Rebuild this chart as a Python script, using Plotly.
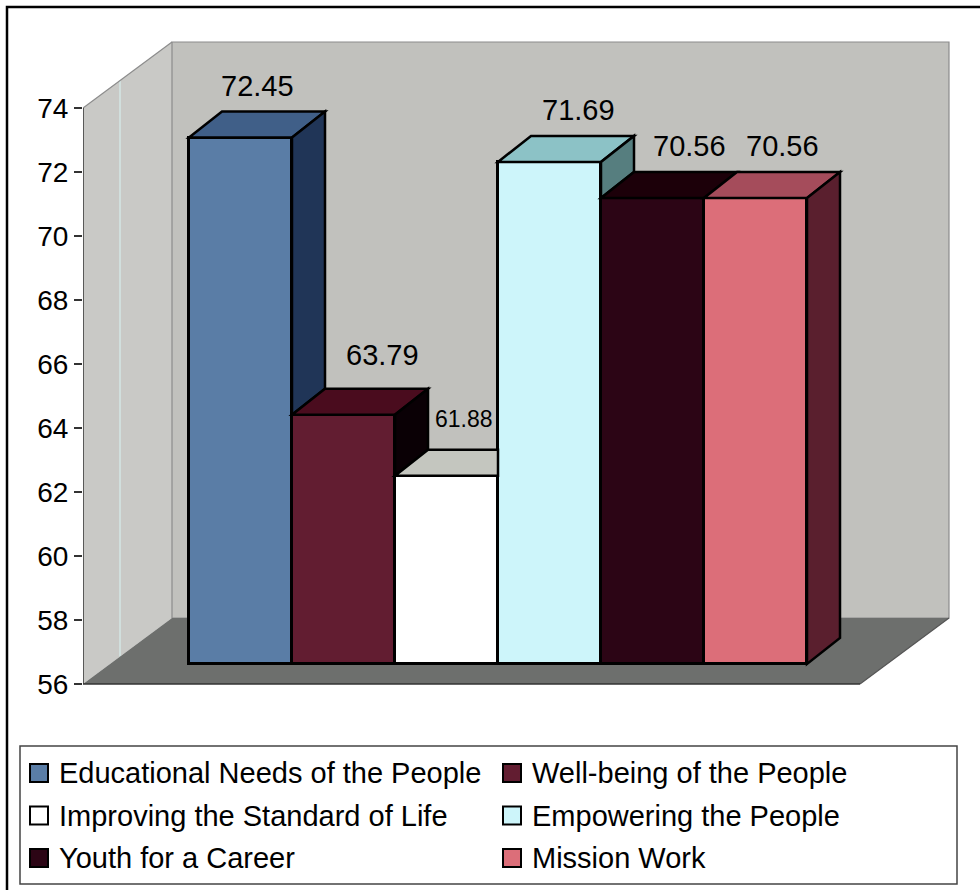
import plotly.graph_objects as go

# ---- data -------------------------------------------------------------
categories = [
    "Educational Needs of the People",
    "Well-being of the People",
    "Improving the Standard of Life",
    "Empowering the People",
    "Youth for a Career",
    "Mission Work",
]
scores = [72.45, 63.79, 61.88, 71.69, 70.56, 70.56]
tick_values = [56, 58, 60, 62, 64, 66, 68, 70, 72, 74]

# ---- colours (front / top / side face of each column) -----------------
front_colors = ["#5a7da6", "#621d31", "#ffffff", "#cdf5fa", "#2c0515", "#dc6e79"]
top_colors = ["#405f88", "#4a0c1e", "#c4c6bf", "#8cc2c6", "#1c0009", "#a54c5b"]
side_colors = ["#203557", "#0a0005", "#a9aaa4", "#567e7f", "#12000a", "#5a1f2e"]

FONT = "Liberation Sans, Arial, sans-serif"
Y_MIN, Y_MAX = tick_values[0], tick_values[-1]

# ---- page geometry (pixels) --------------------------------------------
FIG_W, FIG_H = 980, 890
M_L, M_R, M_T, M_B = 83, 30, 40, 200
PLOT_W = FIG_W - M_L - M_R
PLOT_H = FIG_H - M_T - M_B
PLOT_BOTTOM = M_T + PLOT_H

FRONT_Y_MIN_PX = 684      # Y_MIN on the front edge of the box
FRONT_Y_MAX_PX = 108      # Y_MAX on the front edge of the box
PX_PER_Y = (FRONT_Y_MIN_PX - FRONT_Y_MAX_PX) / (Y_MAX - Y_MIN)
PX_PER_X = 103            # one category slot

# box (walls + floor) in front-plane units
BOX_DX = 89 / PX_PER_X
BOX_DY = 66 / PX_PER_Y
FLOOR_W = (860 - M_L) / PX_PER_X

# column plane sits part way into the box
BAR_LEFT_PX = 189
BAR_BASE_PX = 664
BAR_DX = 33 / PX_PER_X
BAR_DY = 26 / PX_PER_Y

x_range = [0, PLOT_W / PX_PER_X]
y_range = [Y_MIN - (PLOT_BOTTOM - FRONT_Y_MIN_PX) / PX_PER_Y,
           Y_MAX + (FRONT_Y_MAX_PX - M_T) / PX_PER_Y]
x2_lo = -((BAR_LEFT_PX + PX_PER_X / 2) - M_L) / PX_PER_X
x2_range = [x2_lo, x2_lo + PLOT_W / PX_PER_X]
y2_range = [Y_MIN - (PLOT_BOTTOM - BAR_BASE_PX) / PX_PER_Y,
            Y_MIN + (BAR_BASE_PX - M_T) / PX_PER_Y]


def px_x(p):
    return (p - M_L) / PLOT_W


def px_y(p):
    return (PLOT_BOTTOM - p) / PLOT_H


def path(points):
    return "M " + " L ".join(f"{x:.5f},{y:.5f}" for x, y in points) + " Z"


fig = go.Figure()

# column fronts
fig.add_trace(go.Bar(
    x=list(range(len(scores))),
    y=[v - Y_MIN for v in scores],
    base=Y_MIN,
    width=1.0,
    marker=dict(color=front_colors, line=dict(color="black", width=3)),
    xaxis="x2", yaxis="y2",
    showlegend=False, hoverinfo="skip",
))

shapes = []

# ---- box: left wall, back wall, floor ----------------------------------
shapes.append(dict(type="path", xref="x", yref="y", layer="below",
                   path=path([(0, Y_MIN), (0, Y_MAX), (BOX_DX, Y_MAX + BOX_DY),
                              (BOX_DX, Y_MIN + BOX_DY)]),
                   fillcolor="#c9c9c6", line=dict(width=0)))
shapes.append(dict(type="path", xref="x", yref="y", layer="below",
                   path=path([(BOX_DX, Y_MIN + BOX_DY), (BOX_DX, Y_MAX + BOX_DY),
                              (BOX_DX + FLOOR_W, Y_MAX + BOX_DY),
                              (BOX_DX + FLOOR_W, Y_MIN + BOX_DY)]),
                   fillcolor="#c1c1bd", line=dict(color="#8c8c8c", width=1.2)))
# faint rib on the side wall
rib_t = 37 / 89
shapes.append(dict(type="line", xref="x", yref="y", layer="below",
                   x0=BOX_DX * rib_t, x1=BOX_DX * rib_t,
                   y0=Y_MIN + BOX_DY * rib_t, y1=Y_MAX + BOX_DY * rib_t,
                   line=dict(color="#d3e6e4", width=1.5)))
shapes.append(dict(type="path", xref="x", yref="y", layer="below",
                   path=path([(0, Y_MIN), (FLOOR_W, Y_MIN),
                              (FLOOR_W + BOX_DX, Y_MIN + BOX_DY),
                              (BOX_DX, Y_MIN + BOX_DY)]),
                   fillcolor="#6d6f6d", line=dict(width=0)))
shapes.append(dict(type="line", xref="x", yref="y", layer="below",
                   x0=0, x1=BOX_DX, y0=Y_MAX, y1=Y_MAX + BOX_DY,
                   line=dict(color="#8c8c8c", width=1.2)))
shapes.append(dict(type="line", xref="x", yref="y", layer="below",
                   x0=FLOOR_W, x1=FLOOR_W + BOX_DX, y0=Y_MIN, y1=Y_MIN + BOX_DY,
                   line=dict(color="#555555", width=1.2)))
shapes.append(dict(type="line", xref="x", yref="y", layer="below",
                   x0=0, x1=FLOOR_W, y0=Y_MIN, y1=Y_MIN,
                   line=dict(color="#333333", width=1.5)))
# value axis line
shapes.append(dict(type="line", xref="x", yref="y", layer="below",
                   x0=0, x1=0, y0=Y_MIN, y1=Y_MAX,
                   line=dict(color="#333333", width=1.5)))

# ---- column tops and sides (hidden parts removed) -----------------------
n = len(scores)
for i, v in enumerate(scores):
    left, right = i - 0.5, i + 0.5
    nxt = scores[i + 1] if i + 1 < n else None

    # top face
    if nxt is None or nxt <= v:
        top = [(left, v), (right, v), (right + BAR_DX, v + BAR_DY),
               (left + BAR_DX, v + BAR_DY)]
    elif nxt >= v + BAR_DY:
        top = [(left, v), (right, v), (right, v + BAR_DY),
               (left + BAR_DX, v + BAR_DY)]
    else:
        k = (nxt - v) / BAR_DY
        top = [(left, v), (right, v), (right, nxt), (right + BAR_DX * k, nxt),
               (right + BAR_DX, v + BAR_DY), (left + BAR_DX, v + BAR_DY)]
    shapes.append(dict(type="path", xref="x2", yref="y2", layer="above",
                       path=path(top), fillcolor=top_colors[i],
                       line=dict(color="black", width=2.5)))

    # side face: only the part above the next column shows
    low = Y_MIN if nxt is None else max(Y_MIN, nxt)
    if low < v:
        side = [(right, low), (right, v), (right + BAR_DX, v + BAR_DY),
                (right + BAR_DX, low + BAR_DY)]
        shapes.append(dict(type="path", xref="x2", yref="y2", layer="above",
                           path=path(side), fillcolor=side_colors[i],
                           line=dict(color="black", width=2.5)))

# ---- outer chart frame -------------------------------------------------
shapes.append(dict(type="rect", xref="paper", yref="paper",
                   x0=px_x(7), x1=px_x(995), y0=px_y(7), y1=px_y(905),
                   line=dict(color="black", width=2.5), fillcolor="rgba(0,0,0,0)"))

# ---- legend (two columns, three rows) ----------------------------------
LEG_L, LEG_T, LEG_R, LEG_B = 20, 746, 957, 884
shapes.append(dict(type="rect", xref="paper", yref="paper",
                   x0=px_x(LEG_L), x1=px_x(LEG_R), y0=px_y(LEG_T), y1=px_y(LEG_B),
                   line=dict(color="#444444", width=1.5), fillcolor="white"))
annotations = []
col_x = [30, 503]
row_y = [773, 815.5, 858]
SW = 18
for i, name in enumerate(categories):
    cx = col_x[i % 2]
    cy = row_y[i // 2]
    shapes.append(dict(type="rect", xref="paper", yref="paper",
                       x0=px_x(cx), x1=px_x(cx + SW),
                       y0=px_y(cy - SW / 2), y1=px_y(cy + SW / 2),
                       fillcolor=front_colors[i],
                       line=dict(color="black", width=2)))
    annotations.append(dict(xref="paper", yref="paper", x=px_x(cx + 27), y=px_y(cy),
                            xanchor="left", yanchor="middle", showarrow=False,
                            text=name, font=dict(family=FONT, size=29, color="black")))

# ---- value labels --------------------------------------------------------
label_dx = [0, 22, 1, 12, 20, 10]
label_dy = [26, 34, 31, 26, 26, 26]
label_size = [29, 29, 23, 29, 29, 29]
for i, v in enumerate(scores):
    annotations.append(dict(xref="x2", yref="y2", x=i + BAR_DX / 2, y=v + BAR_DY,
                            xanchor="center", yanchor="middle",
                            xshift=label_dx[i], yshift=label_dy[i],
                            showarrow=False, text=f"{v:.2f}",
                            font=dict(family=FONT, size=label_size[i], color="black")))

fig.update_layout(
    width=FIG_W, height=FIG_H,
    margin=dict(l=M_L, r=M_R, t=M_T, b=M_B, pad=0),
    paper_bgcolor="white", plot_bgcolor="white",
    showlegend=False,
    bargap=0,
    xaxis=dict(range=x_range, visible=False, fixedrange=True),
    yaxis=dict(range=y_range, tickmode="array", tickvals=tick_values,
               ticks="outside", ticklen=8, tickwidth=1.5, tickcolor="#333333",
               showgrid=False, zeroline=False, showline=False,
               tickfont=dict(family=FONT, size=28, color="black"), fixedrange=True),
    xaxis2=dict(range=x2_range, overlaying="x", visible=False, fixedrange=True),
    yaxis2=dict(range=y2_range, overlaying="y", visible=False, fixedrange=True),
    shapes=shapes,
    annotations=annotations,
)

fig.write_html("out.html")
